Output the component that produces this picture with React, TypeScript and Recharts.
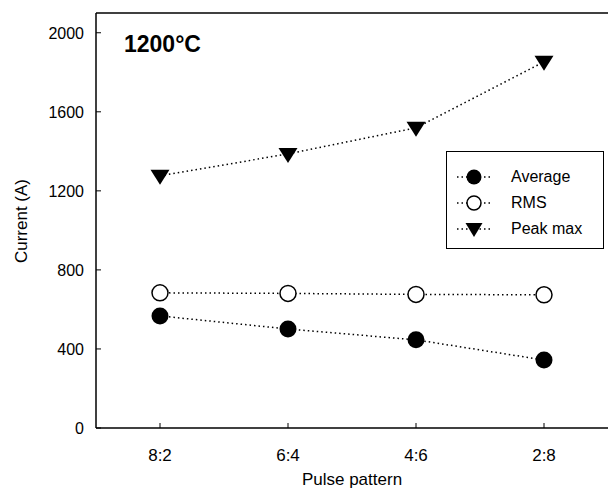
import { LineChart, Line, XAxis, YAxis, ReferenceLine } from 'recharts'

const patterns = ['8:2', '6:4', '4:6', '2:8']
const average = [567, 501, 446, 344]
const rms = [684, 681, 676, 674]
const peakMax = [1276, 1387, 1519, 1853]
const yTicks = [0, 400, 800, 1200, 1600, 2000]

const data = patterns.map((p, i) => ({
    pattern: p,
    average: average[i],
    rms: rms[i],
    peak: peakMax[i],
}))

const FONT = '"Liberation Sans", Arial, sans-serif'

const FilledDot = (props: any) => {
    const { cx, cy } = props
    return <circle cx={cx} cy={cy} r={8.5} fill="#000" />
}

const OpenDot = (props: any) => {
    const { cx, cy } = props
    return <circle cx={cx} cy={cy} r={8} fill="#fff" stroke="#000" strokeWidth={1.5} />
}

const DownTriangle = (props: any) => {
    const { cx, cy } = props
    return <path d={`M${cx - 9.5},${cy - 6} L${cx + 9.5},${cy - 6} L${cx},${cy + 9} Z`} fill="#000" />
}

const XTick = (props: any) => {
    const { x, y, payload } = props
    return (
        <g>
            <line x1={x} y1={y} x2={x} y2={y - 5} stroke="#000" strokeWidth={1} />
            <text x={x} y={y + 33} textAnchor="middle" fontSize={17} fontFamily={FONT} fill="#000">
                {payload.value}
            </text>
        </g>
    )
}

const YTick = (props: any) => {
    const { x, y, payload } = props
    return (
        <g>
            <line x1={x} y1={y} x2={x + 5} y2={y} stroke="#000" strokeWidth={1} />
            <text x={x - 12} y={y + 6} textAnchor="end" fontSize={16} fontFamily={FONT} fill="#000">
                {payload.value}
            </text>
        </g>
    )
}

function LegendBox() {
    const rows = [
        { label: 'Average', marker: <circle cx={19} cy={0} r={7.5} fill="#000" /> },
        { label: 'RMS', marker: <circle cx={19} cy={0} r={7} fill="#fff" stroke="#000" strokeWidth={1.5} /> },
        { label: 'Peak max', marker: <path d="M10.5,-6 L27.5,-6 L19,8 Z" fill="#000" /> },
    ]
    return (
        <div style={{ position: 'absolute', left: 446, top: 151, width: 156, height: 96, border: '1px solid #000', background: '#fff' }}>
            {rows.map((r, i) => (
                <div key={r.label} style={{ position: 'absolute', left: 8, top: 13 + i * 26, height: 24, display: 'flex', alignItems: 'center' }}>
                    <svg width={40} height={24} style={{ overflow: 'visible' }}>
                        <g transform="translate(0,12)">
                            <line x1={2} y1={0} x2={36} y2={0} stroke="#000" strokeWidth={1.5} strokeDasharray="1.5 3" />
                            {r.marker}
                        </g>
                    </svg>
                    <span style={{ marginLeft: 16, fontSize: 16, fontFamily: FONT, color: '#000' }}>{r.label}</span>
                </div>
            ))}
        </div>
    )
}

export default function App() {
    return (
        <div style={{ position: 'absolute', left: 0, top: 0, width: 611, height: 491, background: '#fff' }}>
            <LineChart width={611} height={491} data={data} margin={{ top: 13, right: 3, left: 0, bottom: 0 }}>
                <XAxis
                    dataKey="pattern"
                    height={63}
                    padding={{ left: 64, right: 64 }}
                    tick={<XTick />}
                    tickLine={false}
                    tickSize={0}
                    tickMargin={0}
                    axisLine={{ stroke: '#000', strokeWidth: 1.5 }}
                />
                <YAxis
                    width={96}
                    domain={[0, 2100]}
                    ticks={yTicks}
                    tick={<YTick />}
                    tickLine={false}
                    tickSize={0}
                    tickMargin={0}
                    axisLine={{ stroke: '#000', strokeWidth: 1.5 }}
                />
                <ReferenceLine y={2100} stroke="#000" strokeWidth={1.5} />
                <Line
                    dataKey="average"
                    stroke="#000"
                    strokeWidth={1.5}
                    strokeDasharray="1.5 3"
                    dot={<FilledDot />}
                    isAnimationActive={false}
                />
                <Line
                    dataKey="rms"
                    stroke="#000"
                    strokeWidth={1.5}
                    strokeDasharray="1.5 3"
                    dot={<OpenDot />}
                    isAnimationActive={false}
                />
                <Line
                    dataKey="peak"
                    stroke="#000"
                    strokeWidth={1.5}
                    strokeDasharray="1.5 3"
                    dot={<DownTriangle />}
                    isAnimationActive={false}
                />
            </LineChart>
            <div style={{ position: 'absolute', left: 124, top: 31, fontSize: 23, fontWeight: 'bold', fontFamily: FONT, color: '#000' }}>
                1200°C
            </div>
            <div
                style={{
                    position: 'absolute',
                    left: 22,
                    top: 221,
                    transform: 'translate(-50%, -50%) rotate(-90deg)',
                    whiteSpace: 'nowrap',
                    fontSize: 17,
                    fontFamily: FONT,
                    color: '#000',
                }}
            >
                Current (A)
            </div>
            <div
                style={{
                    position: 'absolute',
                    left: 352,
                    top: 470,
                    transform: 'translateX(-50%)',
                    whiteSpace: 'nowrap',
                    fontSize: 17,
                    fontFamily: FONT,
                    color: '#000',
                }}
            >
                Pulse pattern
            </div>
            <LegendBox />
        </div>
    )
}
